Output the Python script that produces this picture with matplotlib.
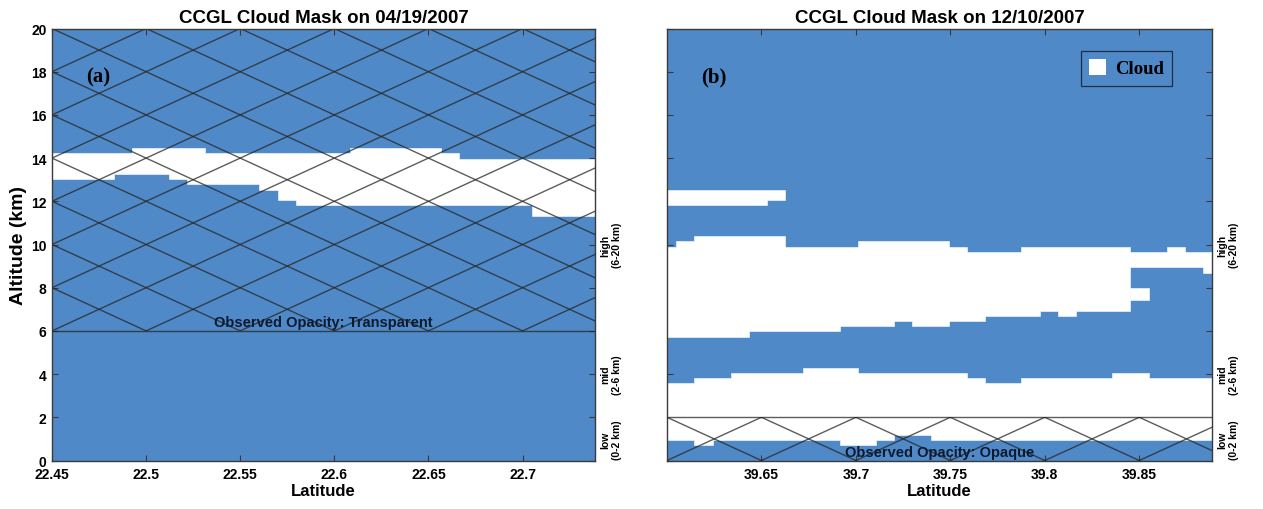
import numpy as np
import matplotlib
matplotlib.use("Agg")
import matplotlib.pyplot as plt
from matplotlib.patches import Rectangle, Patch
from matplotlib.transforms import blended_transform_factory

plt.rcParams['font.family'] = ['Liberation Sans', 'DejaVu Sans']

# ---------------- data ----------------
titles = ["CCGL Cloud Mask on 04/19/2007", "CCGL Cloud Mask on 12/10/2007"]
panel_tags = ["(a)", "(b)"]
opacity_labels = ["Observed Opacity: Transparent", "Observed Opacity: Opaque"]
xticks_a = [22.45, 22.5, 22.55, 22.6, 22.65, 22.7]
xticks_b = [39.65, 39.7, 39.75, 39.8, 39.85]
yticks = [0, 2, 4, 6, 8, 10, 12, 14, 16, 18, 20]
layer_names = ["high\n(6-20 km)", "mid\n(2-6 km)", "low\n(0-2 km)"]
layer_label_alt = [10, 4, 1]

# panel (a): column edges (latitude) and cloud layer base / top (km)
lat_edges_a = [22.4500, 22.4541, 22.4637, 22.4734, 22.4830, 22.4927, 22.5023, 22.5120,
               22.5216, 22.5313, 22.5409, 22.5506, 22.5602, 22.5699, 22.5795, 22.5892,
               22.5988, 22.6085, 22.6181, 22.6278, 22.6374, 22.6471, 22.6567, 22.6664,
               22.6760, 22.6857, 22.6953, 22.7050, 22.7146, 22.7243, 22.7339, 22.7385]
top_a = [14.22] * 5 + [14.46] * 4 + [14.22] * 8 + [14.46] * 5 + [14.22] + [13.98] * 8
base_a = [13.02] * 4 + [13.26] * 3 + [13.02] + [12.78] * 4 + [12.54] + [12.06] + [11.82] * 13 + [11.34] * 4

# panel (b)
lat_edges_b = [39.6000, 39.6049, 39.6145, 39.6241, 39.6338, 39.6434, 39.6530, 39.6626,
               39.6722, 39.6818, 39.6915, 39.7011, 39.7107, 39.7203, 39.7299, 39.7395,
               39.7492, 39.7588, 39.7684, 39.7780, 39.7876, 39.7972, 39.8069, 39.8165,
               39.8261, 39.8357, 39.8453, 39.8549, 39.8646, 39.8742, 39.8838, 39.8885]
nan = np.nan
top_b1 = [12.54] * 7 + [nan] * 24
base_b1 = [11.82] * 6 + [12.06] + [nan] * 24
top_b2 = ([9.90] + [10.14] + [10.38] * 5 + [9.90] * 4 + [10.14] * 5 + [9.90] + [9.66] * 3
          + [9.90] * 6 + [9.66] * 2 + [9.90] + [9.66] * 2)
base_b2 = ([5.74] * 5 + [5.98] * 5 + [6.22] * 3 + [6.46] + [6.22] * 2 + [6.46] * 2 + [6.70] * 3
           + [6.94] + [6.70] + [6.94] * 3 + [8.94] * 4 + [8.70])
top_b2b = [nan] * 26 + [7.98] + [nan] * 4
base_b2b = [nan] * 26 + [7.42] + [nan] * 4
top_b3 = ([3.58] * 2 + [3.82] * 2 + [4.06] * 4 + [4.30] * 3 + [4.06] * 6 + [3.82] + [3.58] * 2
          + [3.82] * 5 + [4.06] * 2 + [3.82] * 4)
base_b3 = [0.94] * 2 + [0.70] + [0.94] * 7 + [0.70] * 2 + [0.94] + [1.18] * 2 + [0.94] * 16

# ---------------- style ----------------
BLUE = '#4f89c7'
HATCH = (0.15, 0.15, 0.15, 0.75)
SPINE = '#3a3a3a'

fig = plt.figure(figsize=(12.63, 5.10), dpi=100)
ax1 = fig.add_axes([52 / 1263, 48.5 / 510, 543 / 1263, 432 / 510])
ax2 = fig.add_axes([667 / 1263, 48.5 / 510, 545 / 1263, 432 / 510])


def draw_layer(ax, edges, base, top):
    edges = np.asarray(edges, float)
    base = np.asarray(base, float)
    top = np.asarray(top, float)
    ok = ~np.isnan(base)
    n = len(base)
    i = 0
    while i < n:
        if not ok[i]:
            i += 1
            continue
        j = i
        while j < n and ok[j]:
            j += 1
        xs = edges[i:j + 1]
        lo = np.append(base[i:j], base[j - 1])
        hi = np.append(top[i:j], top[j - 1])
        ax.fill_between(xs, lo, hi, step='post', facecolor='white', edgecolor='white',
                        linewidth=0.4, zorder=2)
        i = j


def crosshatch(ax, x0, x1, ylo, yhi, xorig, yorig):
    clip = Rectangle((x0, ylo), x1 - x0, yhi - ylo, transform=ax.transData)
    xs = np.array([x0, x1])
    for k in range(-40, 40):
        for sgn in (1, -1):
            ys = yorig + sgn * 40 * (xs - xorig) + 2 * k
            ln, = ax.plot(xs, ys, color=HATCH, lw=1.0, zorder=3)
            ln.set_clip_path(clip)


def style(ax, xlim, xticks, show_ylabels):
    ax.set_facecolor(BLUE)
    ax.set_xlim(*xlim)
    ax.set_ylim(0, 20)
    ax.set_xticks(xticks)
    ax.set_xticklabels([f"{t:g}" for t in xticks], fontsize=10, fontweight='bold')
    ax.set_yticks(yticks)
    if show_ylabels:
        ax.set_yticklabels([str(t) for t in yticks], fontsize=10, fontweight='bold')
    else:
        ax.set_yticklabels([])
    ax.tick_params(direction='in', top=True, right=True, length=4, width=0.8,
                   color=SPINE)
    ax.tick_params(axis='x', pad=5)
    ax.tick_params(axis='y', pad=4)
    for s in ax.spines.values():
        s.set_color(SPINE)
        s.set_linewidth(1.0)
        s.set_zorder(5)
    ax.set_xlabel("Latitude", fontsize=12, fontweight='bold', labelpad=1)
    tr = blended_transform_factory(ax.transAxes, ax.transData)
    for name, alt in zip(layer_names, layer_label_alt):
        ax.text(1.03, alt, name, transform=tr, rotation=90, ha='center', va='center',
                fontsize=7.5, fontweight='bold', multialignment='center')


# panel (a)
style(ax1, (lat_edges_a[0], lat_edges_a[-1]), xticks_a, True)
draw_layer(ax1, lat_edges_a, base_a, top_a)
crosshatch(ax1, lat_edges_a[0], lat_edges_a[-1], 6, 20, 22.45, 20)
ax1.axhline(6, color=HATCH, lw=1.0, zorder=3)
ax1.set_ylabel("Altitude (km)", fontsize=14, fontweight='bold', labelpad=3)
ax1.set_title(titles[0], fontsize=13.5, fontweight='bold', pad=5)
ax1.text(0.085, 0.89, panel_tags[0], transform=ax1.transAxes, fontsize=15,
         fontweight='bold', family='Liberation Serif', ha='center', va='center', zorder=6)
ax1.text(0.5, 6.1, opacity_labels[0], transform=blended_transform_factory(ax1.transAxes, ax1.transData),
         ha='center', va='bottom', fontsize=10.5, fontweight='bold', color='#0c1a2e', zorder=6)

# panel (b)
style(ax2, (lat_edges_b[0], lat_edges_b[-1]), xticks_b, False)
draw_layer(ax2, lat_edges_b, base_b1, top_b1)
draw_layer(ax2, lat_edges_b, base_b2, top_b2)
draw_layer(ax2, lat_edges_b, base_b2b, top_b2b)
draw_layer(ax2, lat_edges_b, base_b3, top_b3)
crosshatch(ax2, lat_edges_b[0], lat_edges_b[-1], 0, 2, 39.60, 2)
ax2.axhline(2, color=HATCH, lw=1.0, zorder=3)
ax2.set_title(titles[1], fontsize=13.5, fontweight='bold', pad=5)
ax2.text(0.085, 0.89, panel_tags[1], transform=ax2.transAxes, fontsize=15,
         fontweight='bold', family='Liberation Serif', ha='center', va='center', zorder=6)
ax2.text(0.5, 0.05, opacity_labels[1], transform=blended_transform_factory(ax2.transAxes, ax2.transData),
         ha='center', va='bottom', fontsize=10.5, fontweight='bold', color='#0c1a2e', zorder=6)

leg = ax2.legend(handles=[Patch(facecolor='white', edgecolor='none')], labels=['Cloud'],
                 loc='upper right', bbox_to_anchor=(0.927, 0.949), borderaxespad=0,
                 prop={'family': 'Liberation Serif', 'weight': 'bold', 'size': 13.5},
                 frameon=True, fancybox=False, facecolor=BLUE, framealpha=1,
                 edgecolor='#1c2f45', handlelength=0.9, handleheight=0.9,
                 borderpad=0.45, handletextpad=0.45)
leg.get_frame().set_linewidth(0.9)
leg.set_zorder(7)

fig.savefig("out.png", dpi=100)
